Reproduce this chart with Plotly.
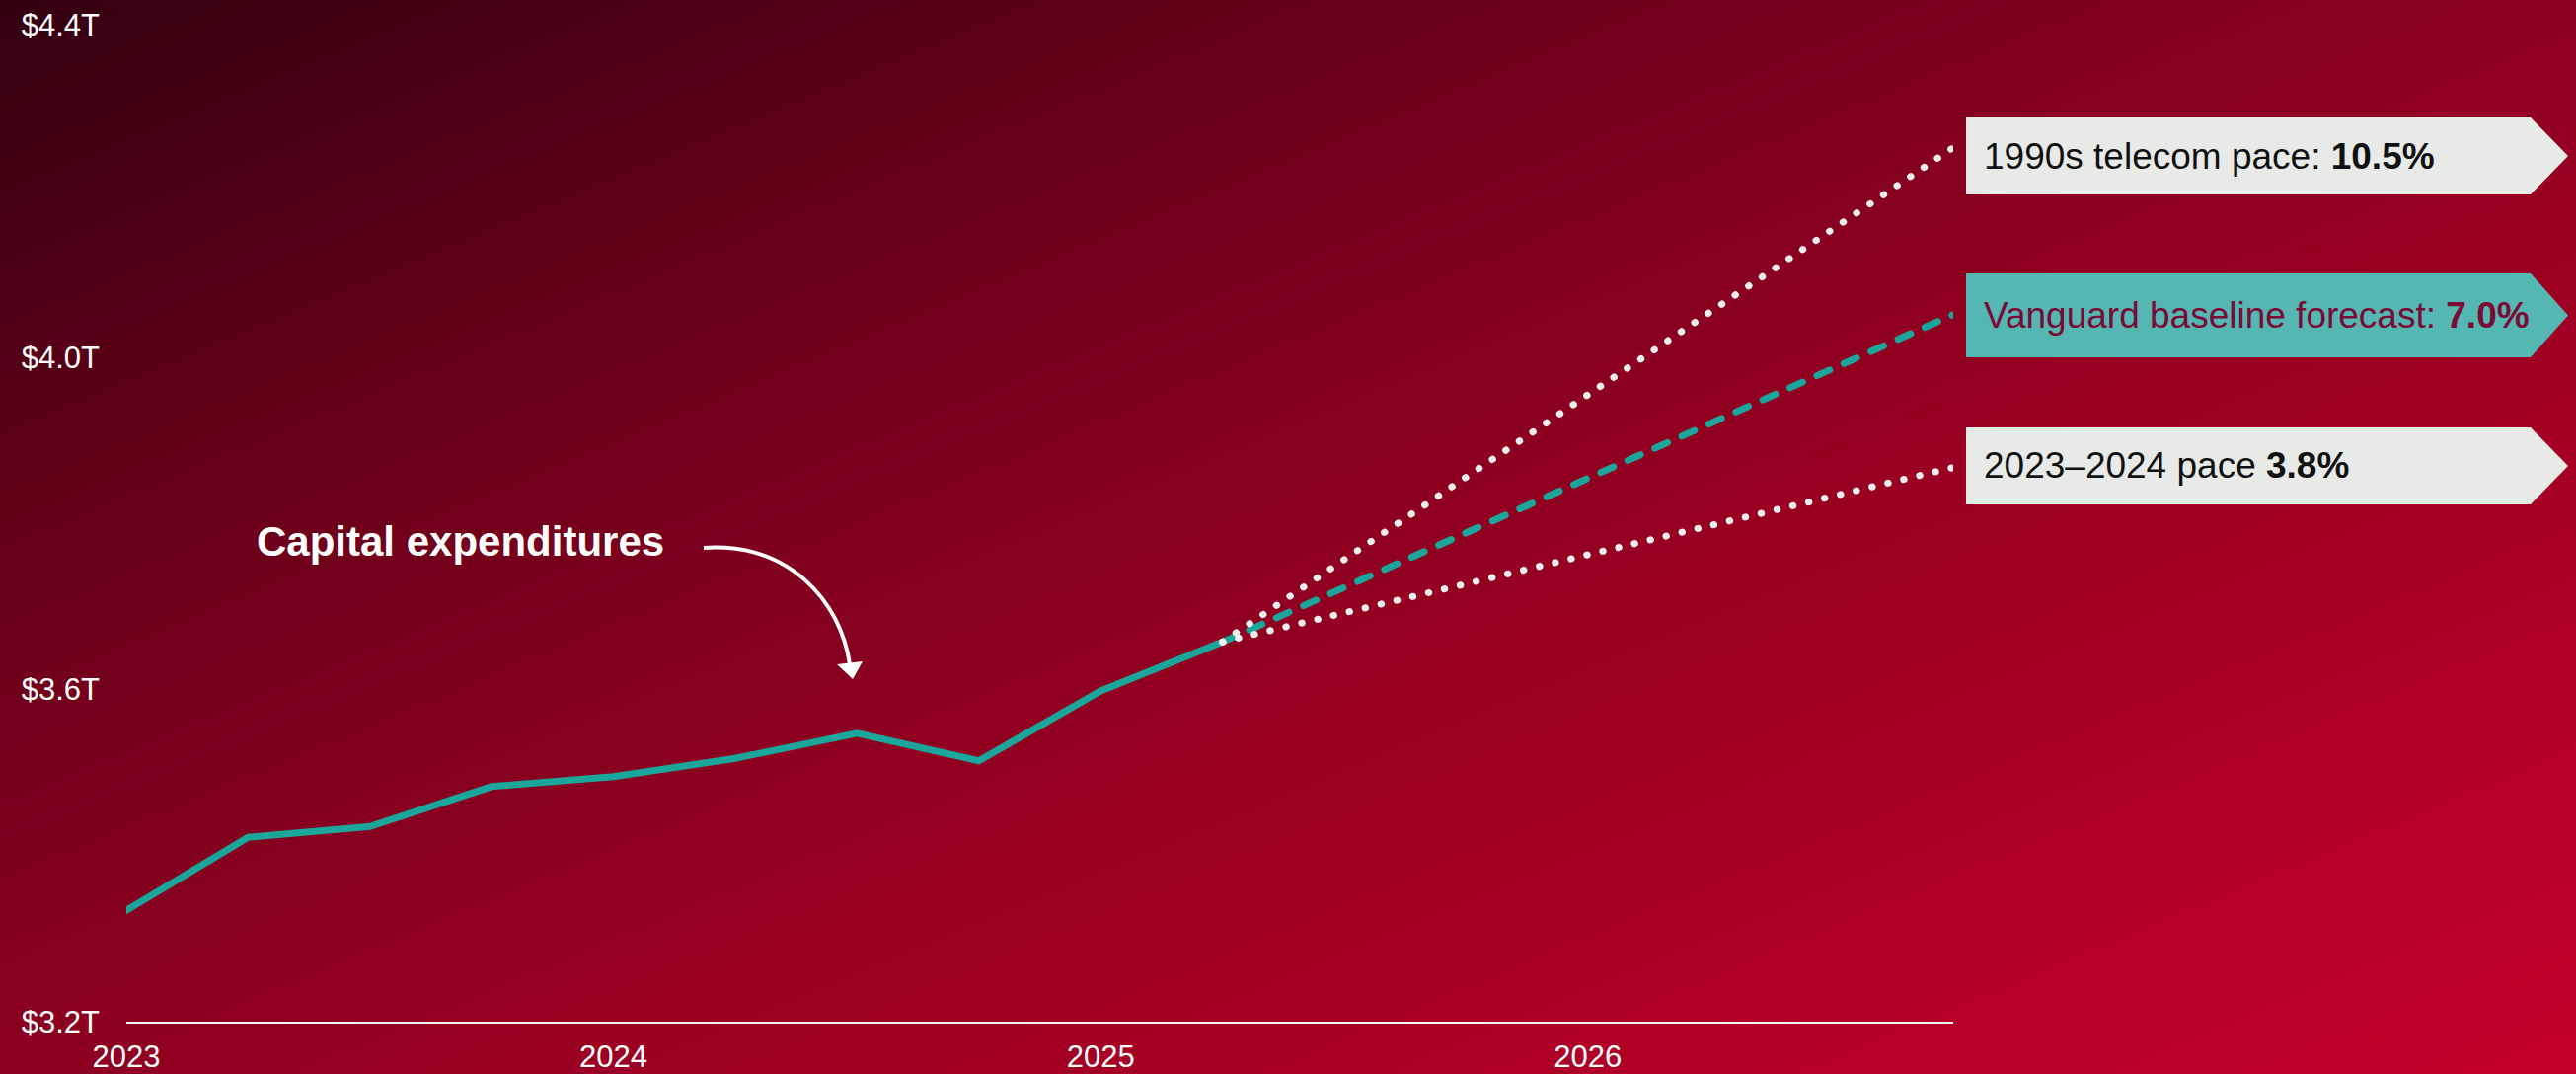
import base64
import plotly.graph_objects as go

# Quarterly capital expenditures, trillions of US dollars
quarters = [2023.0, 2023.25, 2023.5, 2023.75, 2024.0, 2024.25, 2024.5, 2024.75, 2025.0, 2025.25]
capex = [3.334, 3.422, 3.435, 3.483, 3.495, 3.517, 3.547, 3.514, 3.598, 3.657]

# Forecast paths from the last observed quarter to the end of 2026
forecast_x = [2025.25, 2026.75]
telecom_pace = [3.657, 4.252]
baseline_pace = [3.657, 4.051]
recent_pace = [3.657, 3.867]

year_ticks = [2023, 2024, 2025, 2026]
year_labels = ["2023", "2024", "2025", "2026"]
value_ticks = [3.2, 3.6, 4.0, 4.4]
value_labels = ["$3.2T", "$3.6T", "$4.0T", "$4.4T"]

callout_texts = [
    "1990s telecom pace: <b>10.5%</b>",
    "Vanguard baseline forecast: <b>7.0%</b>",
    "2023\u20132024 pace <b>3.8%</b>",
]

W, H = 2610, 1088
L, T, PW, PH = 128, 25, 1851, 1010

TEAL = "#1aa69a"
FONT = "Arial, Liberation Sans, sans-serif"


def px(x):
    return (x - L) / PW


def py(y):
    return (T + PH - y) / PH


fig = go.Figure()

fig.add_trace(go.Scatter(x=quarters, y=capex, mode="lines",
                         line=dict(color=TEAL, width=7), hoverinfo="skip"))
fig.add_trace(go.Scatter(x=forecast_x, y=baseline_pace, mode="lines",
                         line=dict(color=TEAL, width=7, dash="14px,16px"), hoverinfo="skip"))
for series in (telecom_pace, recent_pace):
    fig.add_trace(go.Scatter(x=forecast_x, y=series, mode="lines",
                             line=dict(color="#eeeeee", width=7, dash="0.5px,16px"),
                             hoverinfo="skip"))

# Diagonal background gradient
svg = (
    f"<svg xmlns='http://www.w3.org/2000/svg' width='{W}' height='{H}' "
    f"viewBox='0 0 {W} {H}' preserveAspectRatio='none'>"
    "<defs><linearGradient id='g' x1='0' y1='0' x2='1' y2='1'>"
    "<stop offset='0' stop-color='#330010'/>"
    "<stop offset='0.25' stop-color='#640018'/>"
    "<stop offset='0.45' stop-color='#86001f'/>"
    "<stop offset='0.6' stop-color='#9a0022'/>"
    "<stop offset='1' stop-color='#c4002b'/>"
    "</linearGradient></defs>"
    f"<rect width='{W}' height='{H}' fill='url(#g)'/></svg>"
)
bg_src = "data:image/svg+xml;base64," + base64.b64encode(svg.encode()).decode()

shapes = []
annotations = []

# Arrow-shaped callout boxes
boxes = [(119, 197, "#e8eae8", "#111111"),
         (277, 362, "#54b7b2", "#7a0a36"),
         (433, 511, "#e8eae8", "#111111")]
body_right, tip_x, box_left = 2564, 2602, 1992
for (top, bottom, fill, txt_color), text in zip(boxes, callout_texts):
    mid = (top + bottom) / 2
    path = (f"M {px(box_left)},{py(top)} L {px(body_right)},{py(top)} "
            f"L {px(tip_x)},{py(mid)} L {px(body_right)},{py(bottom)} "
            f"L {px(box_left)},{py(bottom)} Z")
    shapes.append(dict(type="path", xref="paper", yref="paper", path=path,
                       fillcolor=fill, line=dict(width=0), layer="above"))
    annotations.append(dict(xref="paper", yref="paper", x=px(2008), y=py(mid),
                            xanchor="left", yanchor="middle", showarrow=False,
                            text=text, font=dict(family=FONT, size=37, color=txt_color)))

# Series label with curved pointer
annotations.append(dict(xref="paper", yref="paper", x=px(258), y=py(548),
                        xanchor="left", yanchor="middle", showarrow=False,
                        text="<b>Capital expenditures</b>",
                        font=dict(family=FONT, size=42, color="white")))
shapes.append(dict(type="path", xref="paper", yref="paper",
                   path=(f"M {px(713)},{py(555)} C {px(800)},{py(549)} "
                         f"{px(852)},{py(610)} {px(861)},{py(673)}"),
                   line=dict(color="white", width=4)))
shapes.append(dict(type="path", xref="paper", yref="paper",
                   path=(f"M {px(848)},{py(673)} L {px(874)},{py(670)} "
                         f"L {px(864)},{py(688)} Z"),
                   fillcolor="white", line=dict(width=0)))

fig.update_layout(
    width=W, height=H,
    margin=dict(l=L, r=W - L - PW, t=T, b=H - T - PH, pad=0),
    paper_bgcolor="#8a0020", plot_bgcolor="rgba(0,0,0,0)",
    showlegend=False,
    font=dict(family=FONT, color="white", size=31),
    images=[dict(source=bg_src, xref="paper", yref="paper",
                 x=-L / PW, y=1 + T / PH, sizex=W / PW, sizey=H / PH,
                 xanchor="left", yanchor="top", sizing="stretch", layer="below")],
    shapes=shapes,
    annotations=annotations,
    xaxis=dict(range=[2023, 2026.75], tickvals=year_ticks, ticktext=year_labels,
               showgrid=False, zeroline=False, showline=True, linecolor="#f2f2f2",
               linewidth=2, ticks="", ticklabelstandoff=7, automargin=False,
               tickfont=dict(family=FONT, size=31, color="white")),
    yaxis=dict(range=[3.2, 4.4], tickvals=value_ticks, ticktext=value_labels,
               showgrid=False, zeroline=False, showline=False, ticks="",
               ticklabelstandoff=26, automargin=False,
               tickfont=dict(family=FONT, size=31, color="white")),
)

round_caps = """
document.querySelectorAll('.scatterlayer path.js-line').forEach(function (p) {
  p.style.strokeLinecap = 'round';
});
"""

fig.write_html("out.html", post_script=round_caps)
